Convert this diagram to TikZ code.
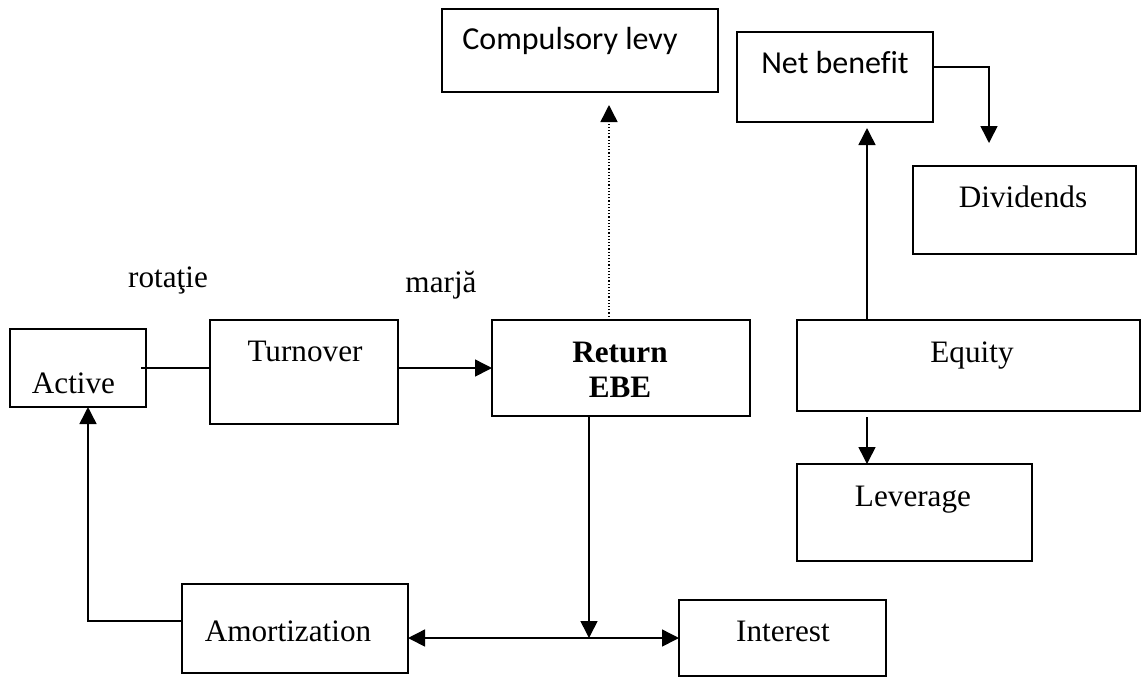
\documentclass[tikz,border=0pt]{standalone}
\usepackage{fontspec}
\setmainfont{Liberation Serif}
\newfontfamily\calibri[Ligatures=NoCommon]{Carlito}
\usetikzlibrary{arrows.meta}

\begin{document}
\begin{tikzpicture}[x=0.5pt, y=-0.5pt, line width=0.75pt,
    box/.style={draw, inner sep=0pt, outer sep=0pt},
    txt/.style={anchor=base, inner sep=0pt, font=\fontsize{15.6}{18}\selectfont},
    sanstxt/.style={anchor=base, inner sep=0pt, font=\calibri\fontsize{16}{19}\selectfont},
    arr/.style={-{Triangle[length=8.5pt,width=8.5pt]}},
    arrb/.style={{Triangle[length=8.5pt,width=8.5pt]}-{Triangle[length=8.5pt,width=8.5pt]}}]
      \useasboundingbox (0,0) rectangle (1141,677);
      % boxes
      \node[box, minimum width=138pt, minimum height=41.5pt] (levy) at (580,50.5) {};
      \node[box, minimum width=98pt, minimum height=45pt] (netben) at (835,77) {};
      \node[box, minimum width=111.5pt, minimum height=44pt] (divid) at (1024.5,210) {};
      \node[box, minimum width=68pt, minimum height=39pt] (active) at (78,368) {};
      \node[box, minimum width=94pt, minimum height=52pt] (turnover) at (304,372) {};
      \node[box, minimum width=129pt, minimum height=48pt] (return) at (621,368) {};
      \node[box, minimum width=171.5pt, minimum height=45.5pt] (equity) at (968.5,365.5) {};
      \node[box, minimum width=117.5pt, minimum height=48.5pt] (lever) at (914.5,512.5) {};
      \node[box, minimum width=113pt, minimum height=44.5pt] (amort) at (295,628.5) {};
      \node[box, minimum width=103.5pt, minimum height=38pt] (interest) at (782.5,638) {};
      % texts
      \node[sanstxt] (levyT) at (570,49) {Compulsory levy};
      \node[sanstxt] (netbenT) at (835,73) {Net benefit};
      \node[txt] (dividT) at (1023,207) {Dividends};
      \node[txt] (rotT) at (168,287) {rotaţie};
      \node[txt] (marjT) at (441,292) {marjă};
      \node[txt] (activeT) at (73.5,393) {Active};
      \node[txt] (turnoverT) at (305,361) {Turnover};
      \node[txt, font=\fontsize{15.6}{18}\bfseries] (returnT) at (620,362) {Return};
      \node[txt, font=\fontsize{15.6}{18}\bfseries] (ebeT) at (620,397) {EBE};
      \node[txt] (equityT) at (972,362) {Equity};
      \node[txt] (leverT) at (913,506) {Leverage};
      \node[txt] (amortT) at (288,641) {Amortization};
      \node[txt] (interestT) at (783,641) {Interest};
      % connectors
      \draw ([xshift=-2.5pt]active.east) -- (active.east -| turnover.west);
      \draw[arr] (turnover.east |- return.west) -- (return.west);
      \draw[arr, dash pattern=on 0.6pt off 1pt, shorten >=6.5pt] ([xshift=-6pt]return.north) -- ([xshift=-6pt]return.north |- levy.south);
      \draw[arr, shorten >=3pt] ([xshift=35pt]equity.north west) -- ([xshift=35pt]equity.north west |- netben.south);
      \draw[arr, shorten >=11.5pt] ([yshift=5pt]netben.east) -| ([xshift=-17.75pt]divid.north);
      \draw[arr, shorten <=3pt] ([xshift=35pt]equity.south west) -- ([xshift=35pt]equity.south west |- lever.north);
      \draw[arrb] (amort.east |- interest.west) -- (interest.west);
      \draw[arr] ([xshift=-16pt]return.south) -- ([xshift=-16pt]return.south |- interest.west);
      \draw[arr] ([yshift=3.75pt]amort.west) -| ([xshift=5pt]active.south);
\end{tikzpicture}
\end{document}
